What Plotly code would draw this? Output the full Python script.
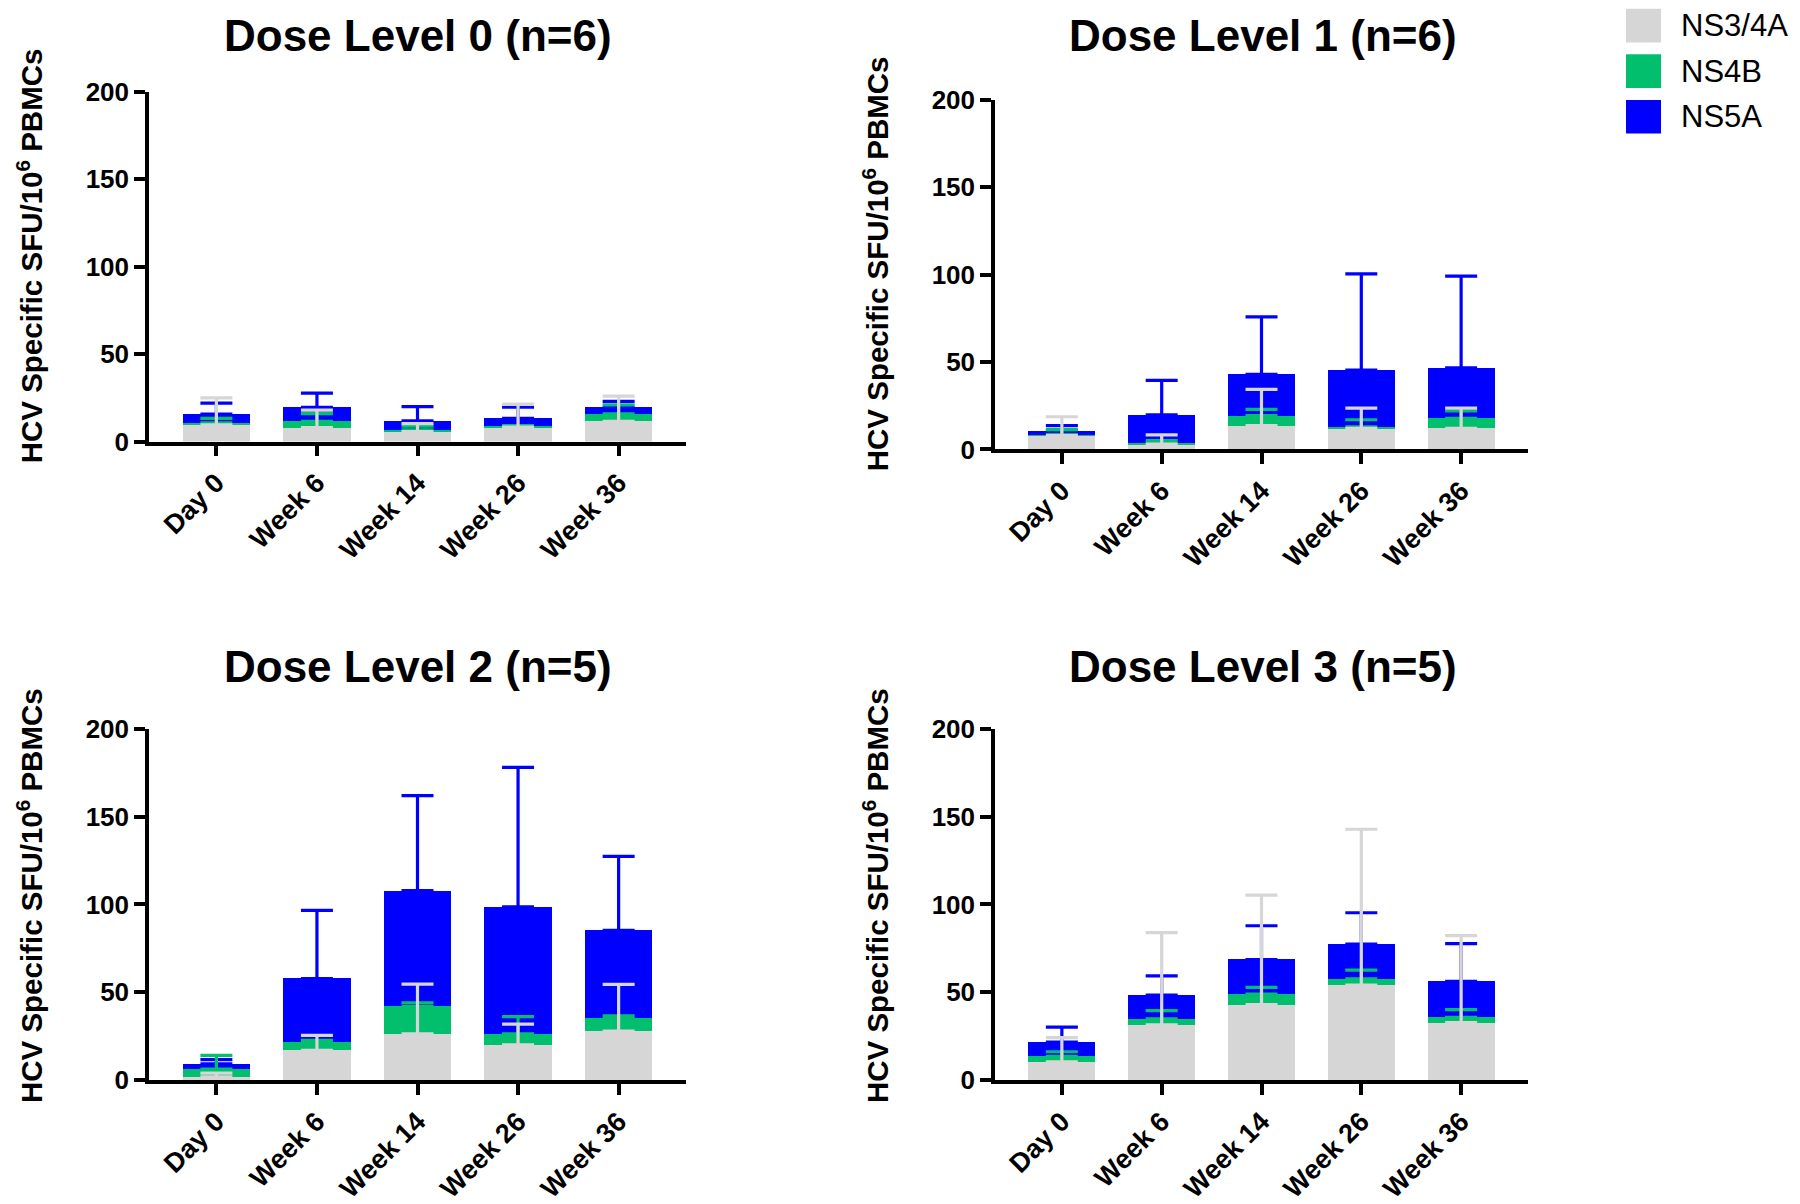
import plotly.graph_objects as go

categories = ["Day 0", "Week 6", "Week 14", "Week 26", "Week 36"]
series_names = ["NS3/4A", "NS4B", "NS5A"]
series_colors = ["#D6D6D6", "#02BF6E", "#0000FF"]
panel_titles = ["Dose Level 0 (n=6)", "Dose Level 1 (n=6)",
                "Dose Level 2 (n=5)", "Dose Level 3 (n=5)"]
y_ticks = [0, 50, 100, 150, 200]

# Segment means (stacked) and upward error lengths, per dose level
dl0_ns34a = [9.5, 8.0, 5.7, 8.2, 11.5]
dl0_ns4b = [1.2, 3.5, 1.0, 0.4, 4.4]
dl0_ns5a = [5.0, 8.1, 5.1, 4.7, 3.7]
dl0_ns34a_err = [15.5, 10.0, 4.5, 13.2, 14.5]
dl0_ns4b_err = [2.5, 4.5, 2.1, 0.5, 5.1]
dl0_ns5a_err = [6.3, 8.1, 8.2, 6.3, 3.4]

dl1_ns34a = [7.9, 3.0, 13.6, 12.1, 12.1]
dl1_ns4b = [0.6, 0.6, 5.7, 0.9, 5.7]
dl1_ns5a = [2.3, 16.2, 23.6, 32.4, 28.9]
dl1_ns34a_err = [10.8, 5.3, 20.8, 11.5, 11.5]
dl1_ns4b_err = [2.8, 1.5, 3.6, 4.0, 4.2]
dl1_ns5a_err = [2.8, 19.7, 32.9, 55.0, 52.5]

dl2_ns34a = [2.0, 17.0, 26.4, 20.2, 27.9]
dl2_ns4b = [4.3, 4.7, 15.7, 6.2, 7.4]
dl2_ns5a = [3.0, 36.2, 65.8, 72.3, 50.0]
dl2_ns34a_err = [2.0, 8.5, 28.3, 11.7, 26.6]
dl2_ns4b_err = [7.9, 1.0, 2.0, 9.8, 1.3]
dl2_ns5a_err = [2.4, 38.7, 54.0, 79.3, 42.1]

dl3_ns34a = [10.4, 31.5, 43.0, 54.2, 32.8]
dl3_ns4b = [3.2, 3.4, 6.0, 3.5, 3.0]
dl3_ns5a = [8.1, 13.6, 19.7, 19.7, 20.4]
dl3_ns34a_err = [13.8, 52.5, 62.3, 88.6, 49.5]
dl3_ns4b_err = [2.6, 4.7, 3.8, 4.9, 4.4]
dl3_ns5a_err = [8.5, 10.9, 19.2, 17.9, 21.5]

panels = [
    ([dl0_ns34a, dl0_ns4b, dl0_ns5a], [dl0_ns34a_err, dl0_ns4b_err, dl0_ns5a_err]),
    ([dl1_ns34a, dl1_ns4b, dl1_ns5a], [dl1_ns34a_err, dl1_ns4b_err, dl1_ns5a_err]),
    ([dl2_ns34a, dl2_ns4b, dl2_ns5a], [dl2_ns34a_err, dl2_ns4b_err, dl2_ns5a_err]),
    ([dl3_ns34a, dl3_ns4b, dl3_ns5a], [dl3_ns34a_err, dl3_ns4b_err, dl3_ns5a_err]),
]

W, H = 1800, 1204
FONT = "Liberation Sans, Arial, sans-serif"


def row(y):
    """Target pixel row -> layout pixel row (compensates the capture's vertical fit)."""
    return 1.02519 * y - 14.65


def py(y):
    return 1 - row(y) / H


# target pixel layout of each panel: (x_left, x_right, y_zero, y_top)
geom = [(149, 686, 445, 92), (995, 1528, 453, 100),
        (149, 686, 1090, 735), (995, 1528, 1090, 735)]
title_pos = [(418, 35), (1263, 35), (418, 672), (1263, 672)]
ytitle_pos = [(29, 258), (875, 266), (29, 904), (875, 904)]

fig = go.Figure()
layout = dict(
    width=W, height=H, margin=dict(l=0, r=0, t=0, b=0, pad=0),
    paper_bgcolor="white", plot_bgcolor="white",
    barmode="stack", bargap=0.33, showlegend=False,
    font=dict(family=FONT, color="black"),
)
annotations = []
shapes = []

for i, (vals, errs) in enumerate(panels):
    sx = "" if i == 0 else str(i + 1)
    xa, ya = "x" + sx, "y" + sx
    cum = [0.0] * len(categories)
    tops = []
    for k in range(3):
        fig.add_trace(go.Bar(
            x=categories, y=vals[k], name=series_names[k],
            marker=dict(color=series_colors[k], line=dict(width=0)),
            xaxis=xa, yaxis=ya, hoverinfo="skip",
        ))
        cum = [c + v for c, v in zip(cum, vals[k])]
        tops.append(list(cum))
    # error bars drawn above the bars
    for k in [2, 1, 0]:
        fig.add_trace(go.Scatter(
            x=categories, y=tops[k], mode="markers",
            marker=dict(color="rgba(0,0,0,0)", size=1),
            error_y=dict(type="data", array=errs[k], arrayminus=[0] * len(categories),
                         symmetric=False, color=series_colors[k], thickness=3.2, width=16),
            xaxis=xa, yaxis=ya, hoverinfo="skip",
        ))
    xl, xr, y0, yt = geom[i]
    layout["xaxis" + sx] = dict(
        domain=[xl / W, xr / W], anchor=ya, type="category",
        categoryorder="array", categoryarray=categories,
        range=[-0.67, len(categories) - 1 + 0.67],
        showline=True, linewidth=3.5, linecolor="black",
        ticks="outside", ticklen=11, tickwidth=3.5, tickcolor="black",
        tickangle=-45, showgrid=False, zeroline=False,
        tickfont=dict(family=FONT, size=27, color="black", weight="bold"),
    )
    layout["yaxis" + sx] = dict(
        domain=[py(y0), py(yt)], anchor=xa,
        range=[0, 200], tickvals=y_ticks,
        showline=True, linewidth=3.5, linecolor="black",
        ticks="outside", ticklen=11, tickwidth=3.5, tickcolor="black",
        showgrid=False, zeroline=False,
        tickfont=dict(family=FONT, size=26, color="black", weight="bold"),
    )
    tx, ty = title_pos[i]
    annotations.append(dict(
        x=tx / W, y=py(ty), xref="paper", yref="paper",
        text="<b>" + panel_titles[i] + "</b>", showarrow=False,
        xanchor="center", yanchor="middle",
        font=dict(family=FONT, size=44, color="black"),
    ))
    yx, yy = ytitle_pos[i]
    annotations.append(dict(
        x=yx / W, y=py(yy), xref="paper", yref="paper",
        text="<b>HCV Specific SFU/10<sup>6</sup> PBMCs</b>", showarrow=False,
        textangle=-90, xanchor="center", yanchor="middle",
        font=dict(family=FONT, size=29.5, color="black"),
    ))

# legend drawn at the top right
legend_rows = [25, 71, 117]
for k in range(3):
    cy = legend_rows[k]
    shapes.append(dict(
        type="rect", xref="paper", yref="paper",
        x0=1626 / W, x1=1661 / W, y0=py(cy + 17), y1=py(cy - 17),
        fillcolor=series_colors[k], line=dict(width=0),
    ))
    annotations.append(dict(
        x=1679 / W, y=py(cy), xref="paper", yref="paper",
        text=series_names[k], showarrow=False, xanchor="left", yanchor="middle",
        font=dict(family=FONT, size=31, color="black"),
    ))

layout["annotations"] = annotations
layout["shapes"] = shapes
fig.update_layout(**layout)

css_fix = (
    "var s=document.createElement('style');"
    "s.textContent='html,body{margin:0!important;padding:0!important;overflow:hidden;}';"
    "document.head.appendChild(s);"
)
fig.write_html("out.html", config={"displayModeBar": False}, post_script=css_fix)
